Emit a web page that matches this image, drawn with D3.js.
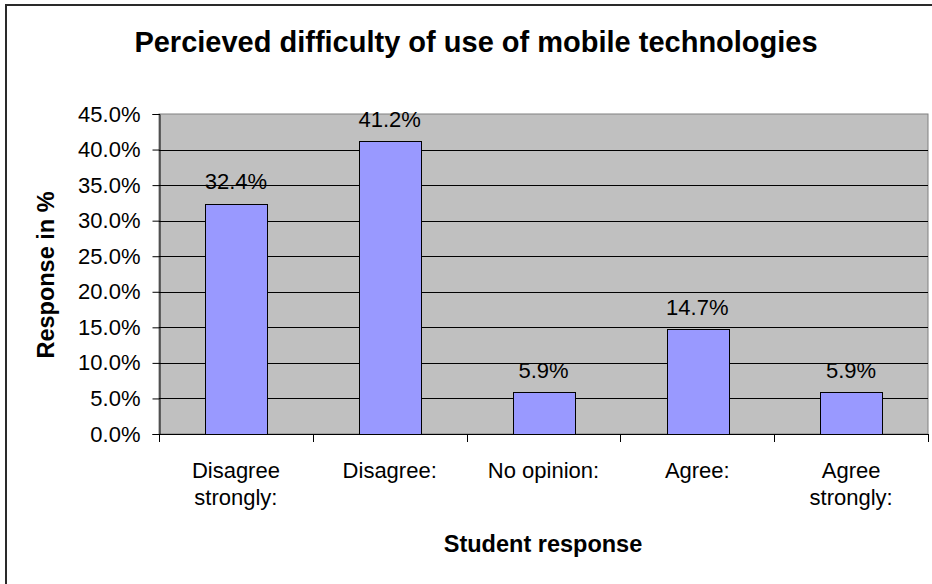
<!DOCTYPE html>
<html>
<head>
<meta charset="utf-8">
<script src="https://cdn.jsdelivr.net/npm/d3@7"></script>
<style>
  html, body { margin: 0; padding: 0; background: #fff; }
  svg { display: block; font-family: "Liberation Sans", Arial, sans-serif; }
</style>
</head>
<body>
<svg id="chart" width="932" height="584"></svg>
<script>
// Survey answers and share of students giving each one
const categories = [["Disagree", "strongly:"], ["Disagree:"], ["No opinion:"], ["Agree:"], ["Agree", "strongly:"]];
const values = [32.4, 41.2, 5.9, 14.7, 5.9];
const yTicks = [0, 5, 10, 15, 20, 25, 30, 35, 40, 45];
const titleText = "Percieved difficulty of use of mobile technologies";
const xTitle = "Student response";
const yTitle = "Response in %";

const svg = d3.select("#chart");
const plot = { left: 159, right: 928, top: 114, bottom: 434 };

// outer frame of the chart
svg.append("rect")
  .attr("x", 6).attr("y", 5).attr("width", 940).attr("height", 600)
  .attr("fill", "#fff").attr("stroke", "#2a2a2a").attr("stroke-width", 2);

const keys = categories.map((c, i) => i);
const x = d3.scaleBand().domain(keys).range([plot.left, plot.right]).paddingInner(0).paddingOuter(0);
const y = d3.scaleLinear().domain([0, 45]).range([plot.bottom, plot.top]);

// plot background
svg.append("rect")
  .attr("x", plot.left).attr("y", plot.top)
  .attr("width", plot.right - plot.left).attr("height", plot.bottom - plot.top)
  .attr("fill", "#c0c0c0").attr("stroke", "#808080").attr("stroke-width", 1);

// horizontal gridlines
svg.append("g").selectAll("line")
  .data(yTicks.filter(t => t > 0 && t < 45))
  .join("line")
  .attr("x1", plot.left).attr("x2", plot.right)
  .attr("y1", d => Math.round(y(d)) + 0.5).attr("y2", d => Math.round(y(d)) + 0.5)
  .attr("stroke", "#000").attr("stroke-width", 1);

// bars
const bw = x.bandwidth() * 0.4;
svg.append("g").selectAll("rect")
  .data(values)
  .join("rect")
  .attr("x", (d, i) => Math.round(x(i) + (x.bandwidth() - bw) / 2) + 0.5)
  .attr("y", d => Math.round(y(d)) + 0.5)
  .attr("width", Math.round(bw))
  .attr("height", d => Math.round(y(0)) - Math.round(y(d)))
  .attr("fill", "#9999ff").attr("stroke", "#000").attr("stroke-width", 1);

// value labels above bars
svg.append("g").selectAll("text")
  .data(values)
  .join("text")
  .attr("x", (d, i) => x(i) + x.bandwidth() / 2)
  .attr("y", d => y(d) - 14.5)
  .attr("text-anchor", "middle")
  .attr("font-size", 22)
  .attr("fill", "#000")
  .text(d => d.toFixed(1) + "%");

// y axis
const yAxis = d3.axisLeft(y).tickValues(yTicks).tickSize(7).tickPadding(12)
  .tickFormat(d => d.toFixed(1) + "%");
const gy = svg.append("g").attr("transform", `translate(${plot.left + 0.5},0)`).call(yAxis);
gy.select(".domain").attr("stroke", "#000");
gy.selectAll(".tick line").attr("stroke", "#000");
gy.selectAll(".tick text").attr("font-size", 22).attr("fill", "#000")
  .attr("font-family", "Liberation Sans, Arial, sans-serif");

// x axis baseline and tick marks at category boundaries
svg.append("line")
  .attr("x1", plot.left).attr("x2", plot.right)
  .attr("y1", plot.bottom + 0.5).attr("y2", plot.bottom + 0.5)
  .attr("stroke", "#000");
const bounds = keys.map(i => x(i)).concat([plot.right]);
svg.append("g").selectAll("line")
  .data(bounds)
  .join("line")
  .attr("x1", d => Math.round(d) + 0.5).attr("x2", d => Math.round(d) + 0.5)
  .attr("y1", plot.bottom).attr("y2", plot.bottom + 8)
  .attr("stroke", "#000");

// category labels (may wrap to two lines)
const cat = svg.append("g").selectAll("text")
  .data(categories)
  .join("text")
  .attr("x", (d, i) => x(i) + x.bandwidth() / 2)
  .attr("y", 478)
  .attr("text-anchor", "middle")
  .attr("font-size", 22)
  .attr("fill", "#000");
cat.each(function (lines, i) {
  d3.select(this).selectAll("tspan")
    .data(lines)
    .join("tspan")
    .attr("x", x(i) + x.bandwidth() / 2)
    .attr("dy", (l, j) => j === 0 ? 0 : 26.5)
    .text(l => l);
});

// titles
svg.append("text")
  .attr("x", 476).attr("y", 52)
  .attr("text-anchor", "middle")
  .attr("font-size", 29).attr("font-weight", "bold")
  .text(titleText);

svg.append("text")
  .attr("x", 543).attr("y", 552)
  .attr("text-anchor", "middle")
  .attr("font-size", 23.5).attr("font-weight", "bold")
  .text(xTitle);

svg.append("text")
  .attr("transform", "translate(54,275) rotate(-90)")
  .attr("text-anchor", "middle")
  .attr("font-size", 23.5).attr("font-weight", "bold")
  .text(yTitle);
</script>
</body>
</html>
